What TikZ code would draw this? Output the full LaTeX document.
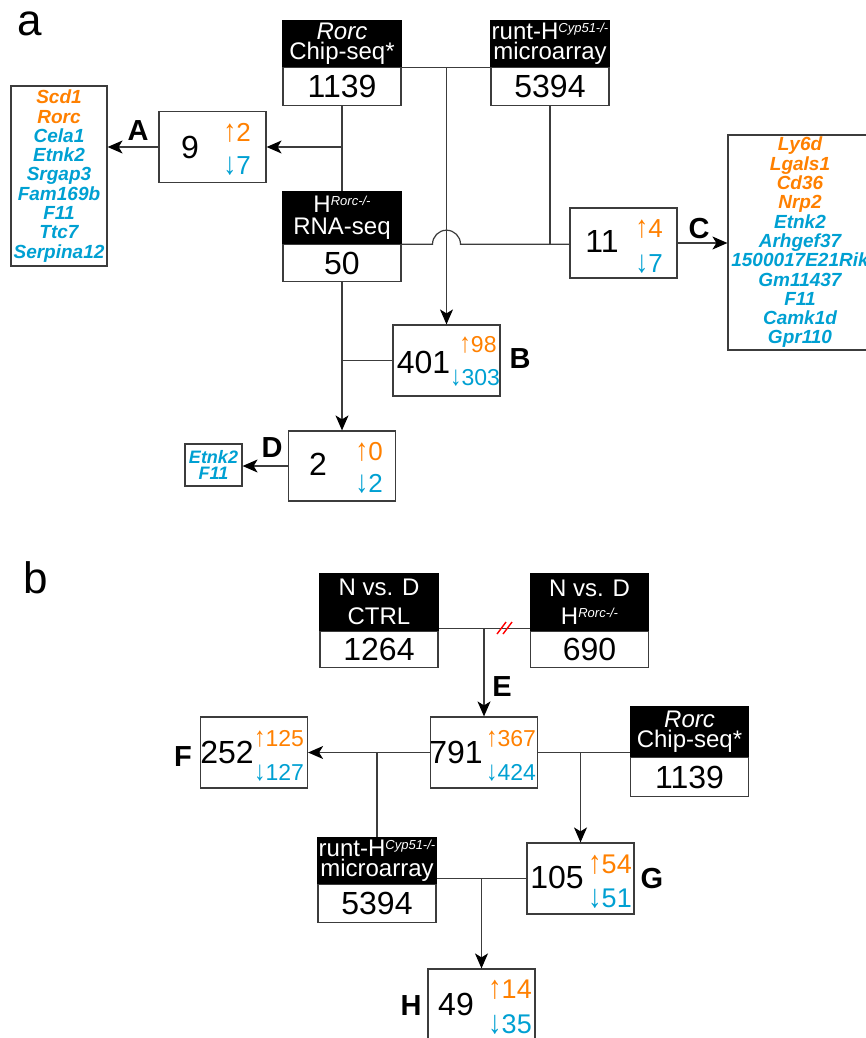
\documentclass[tikz,border=0pt]{standalone}
\usepackage{fontspec}
\usepackage{graphicx}
\setmainfont{Liberation Sans}
\usetikzlibrary{arrows.meta}
\definecolor{ora}{RGB}{255,128,0}
\definecolor{blu}{RGB}{0,160,210}
\definecolor{lgray}{RGB}{60,60,60}
\newcommand{\fsz}[2]{\fontsize{#1}{#2}\selectfont}
\newcommand{\mysup}[1]{\raisebox{7pt}{\fsz{13}{13}\itshape #1}}
\newcommand{\upa}{\scalebox{1}[1.2]{↑}}
\newcommand{\dna}{\scalebox{1}[1.2]{↓}}
\begin{document}
\begin{tikzpicture}[x=1pt,y=-1pt,
 hdr/.style={fill=black,draw=black,line width=1.2pt,text=white,inner sep=0pt,minimum width=118pt,align=center,font=\fsz{24}{20.5}},
 numb/.style={draw=lgray,line width=1.2pt,fill=white,inner sep=0pt,minimum width=118pt,font=\fsz{32}{32}},
 res/.style={draw=lgray,line width=1.2pt,inner sep=0pt,minimum width=107pt,minimum height=71pt},
 big/.style={inner sep=0pt,anchor=base,font=\fsz{32}{32}},
 upn/.style={inner sep=0pt,anchor=base,text=ora},
 dnn/.style={inner sep=0pt,anchor=base,text=blu},
 gene/.style={draw=lgray,line width=1.2pt,inner sep=0pt,align=center,text=blu,font=\fsz{19}{19.3}\bfseries\itshape},
 lbl/.style={inner sep=0pt,anchor=base,font=\fsz{29}{29}\bfseries},
 panel/.style={inner sep=0pt,font=\fsz{44}{44}},
 conn/.style={draw=lgray,line width=1.2pt},
 arr/.style={conn,-{Stealth[length=15pt,width=13pt,inset=4pt,color=black]}},
]
\useasboundingbox (0,0) rectangle (865,1038);

% ---------------- panel a ----------------
\node[panel] (pa) at (30,24) {a};

\node[hdr,minimum height=46pt,anchor=north] (chA) at (342,20) {{\itshape Rorc}\\Chip-seq*};
\node[numb,minimum height=38pt,anchor=north] (chAn) at (chA.south) {1139};

\node[hdr,minimum height=46pt,anchor=north] (ruA) at (550,20) {runt-H\mysup{Cyp51-/-}\\microarray};
\node[numb,minimum height=38pt,anchor=north] (ruAn) at (ruA.south) {5394};

\node[hdr,minimum height=52pt,anchor=north,font=\fsz{24}{22}] (hrA) at (342,191) {H\mysup{Rorc-/-}\\RNA-seq};
\node[numb,minimum height=37pt,anchor=north] (hrAn) at (hrA.south) {50};

\node[res] (b9) at (212.5,147) {};
\node[big] (n9) at (190,158) {9};
\node[upn,font=\fsz{26}{26}] (u9) at (237,141) {\upa2};
\node[dnn,font=\fsz{26}{26}] (d9) at (237,174) {\dna7};

\node[res,minimum height=70pt] (b11) at (623.5,243) {};
\node[big] (n11) at (602,252) {11};
\node[upn,font=\fsz{26}{26}] (u11) at (649,237) {\upa4};
\node[dnn,font=\fsz{26}{26}] (d11) at (649,272) {\dna7};

\node[res] (bB) at (446.5,360.5) {};
\node[big] (nB) at (423.5,373) {401};
\node[upn,font=\fsz{23}{23}] (uB) at (478,352) {\upa98};
\node[dnn,font=\fsz{23}{23}] (dB) at (475,385) {\dna303};

\node[res,minimum height=70pt] (b2) at (342,466) {};
\node[big] (n2) at (318,475) {2};
\node[upn,font=\fsz{26}{26}] (u2) at (369,460) {\upa0};
\node[dnn,font=\fsz{26}{26}] (d2) at (369,492) {\dna2};

\node[gene,minimum width=96pt,minimum height=180pt] (gA) at (59,176)
 {\textcolor{ora}{Scd1}\\\textcolor{ora}{Rorc}\\Cela1\\Etnk2\\Srgap3\\Fam169b\\F11\\Ttc7\\Serpina12};
\node[gene,minimum width=144pt,minimum height=215pt] (gC) at (800,242.5)
 {\textcolor{ora}{Ly6d}\\\textcolor{ora}{Lgals1}\\\textcolor{ora}{Cd36}\\\textcolor{ora}{Nrp2}\\Etnk2\\Arhgef37\\1500017E21Rik\\Gm11437\\F11\\Camk1d\\Gpr110};
\node[gene,minimum width=57pt,minimum height=42pt,font=\fsz{18}{16}\bfseries\itshape] (gD) at (213.5,465) {Etnk2\\F11};

\node[lbl] (lA) at (138,140) {A};
\node[lbl] (lB) at (520,368) {B};
\node[lbl] (lC) at (699,238) {C};
\node[lbl] (lD) at (272,457) {D};

% connectors a
\draw[conn] (chAn.south) -- (hrA.north);
\draw[arr] (chAn.south |- b9.east) -- (b9.east);
\draw[arr] (b9.west) -- (b9.west -| gA.east);
\draw[conn] (chA.south east) -- (ruA.south west);
\draw[arr] (chA.south east -| bB.north) -- (bB.north);
\coordinate (jmp) at (hrA.south east -| bB.north);
\draw[conn] (hrA.south east) -- ([xshift=-14pt]jmp) arc[start angle=180,end angle=0,radius=14pt] -- (jmp -| b11.west);
\draw[conn] (ruAn.south) -- (ruAn.south |- jmp);
\draw[arr] (b11.east) -- (b11.east -| gC.west);
\draw[conn] (bB.west) -- (bB.west -| hrAn.south);
\draw[arr] (hrAn.south) -- (b2.north);
\draw[arr] (b2.west) -- (b2.west -| gD.east);

% ---------------- panel b ----------------
\node[panel] (pb) at (36,578) {b};

\node[hdr,minimum height=57pt,font=\fsz{24}{28.5},anchor=north] (ct) at (379,573) {N vs. D\\CTRL};
\node[numb,minimum height=36pt,anchor=north] (ctn) at (ct.south) {1264};
\node[hdr,minimum height=57pt,font=\fsz{24}{28.5},anchor=north] (hrB) at (589.5,573) {N vs. D\\H\mysup{Rorc-/-}};
\node[numb,minimum height=36pt,anchor=north] (hrBn) at (hrB.south) {690};

\node[res] (b791) at (484,752.5) {};
\node[big] (n791) at (456,763) {791};
\node[upn,font=\fsz{23}{23}] (u791) at (511,746) {\upa367};
\node[dnn,font=\fsz{23}{23}] (d791) at (511,780) {\dna424};

\node[res] (bF) at (254,752.5) {};
\node[big] (nF) at (227,763) {252};
\node[upn,font=\fsz{23}{23}] (uF) at (279,746) {\upa125};
\node[dnn,font=\fsz{23}{23}] (dF) at (279,780) {\dna127};

\node[hdr,minimum height=50pt,anchor=north] (chB) at (689.5,706) {{\itshape Rorc}\\Chip-seq*};
\node[numb,minimum height=39pt,anchor=north] (chBn) at (chB.south) {1139};

\node[hdr,minimum height=46pt,anchor=north] (ruB) at (377,837) {runt-H\mysup{Cyp51-/-}\\microarray};
\node[numb,minimum height=38pt,anchor=north] (ruBn) at (ruB.south) {5394};

\node[res] (b105) at (580.5,878.5) {};
\node[big] (n105) at (557,888) {105};
\node[upn,font=\fsz{27}{27}] (u105) at (610,873) {\upa54};
\node[dnn,font=\fsz{27}{27}] (d105) at (610,907) {\dna51};

\node[res] (b49) at (481.5,1004.5) {};
\node[big] (n49) at (456,1015) {49};
\node[upn,font=\fsz{27}{27}] (u49) at (510,998) {\upa14};
\node[dnn,font=\fsz{27}{27}] (d49) at (510,1033) {\dna35};

\node[lbl] (lE) at (502,696) {E};
\node[lbl] (lF) at (183,766) {F};
\node[lbl] (lG) at (652,888) {G};
\node[lbl] (lH) at (411,1015) {H};

% connectors b
\draw[conn] ([yshift=3pt]ct.south east) -- ([yshift=3pt]hrB.south west);
\draw[red,line width=1.4pt] (497,634) -- (506,622) (503,634) -- (512,622);
\draw[arr] ([yshift=3pt]ct.south east -| b791.north) -- (b791.north);
\draw[arr] (b791.west) -- (bF.east);
\draw[conn] (b791.west -| ruB.north) -- (ruB.north);
\draw[conn] (b791.east) -- (b791.east -| chB.west);
\draw[arr] (b791.east -| b105.north) -- (b105.north);
\draw[conn] (b105.west) -- (b105.west -| ruB.east);
\draw[arr] (b105.west -| b49.north) -- (b49.north);
\end{tikzpicture}
\end{document}
